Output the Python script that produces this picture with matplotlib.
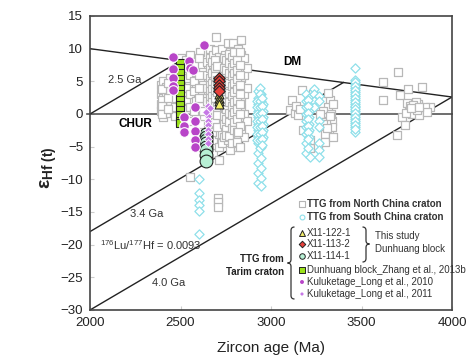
import matplotlib
matplotlib.use("Agg")
import matplotlib.pyplot as plt
from matplotlib.path import Path
from matplotlib.patches import PathPatch

plt.rcParams['font.family'] = ['Liberation Sans', 'DejaVu Sans']
plt.rcParams['mathtext.fontset'] = 'custom'
plt.rcParams['mathtext.rm'] = 'Liberation Sans'
plt.rcParams['mathtext.it'] = 'Liberation Sans:italic'
plt.rcParams['mathtext.bf'] = 'Liberation Sans:bold'

# ---------------- data ----------------
# TTG from North China craton (age Ma, epsilon Hf)
nc_age = ([2390]*4 + [2405]*5 + [2420]*4 + [2440]*4 + [2470]*5 + [2500]*3 + [2530]*6 + [2555]*5
          + [2585]*5 + [2610]*7 + [2625]*4 + [2645]*4 + [2665]*12 + [2680]*12 + [2695]*10
          + [2710]*8 + [2730]*10 + [2745]*8 + [2760]*10 + [2775]*9 + [2790]*9 + [2805]*9
          + [2820]*10 + [2835]*9 + [2850]*5 + [2865]*3
          + [2672]*9 + [2688]*9 + [2702]*6 + [2738]*9 + [2752]*9 + [2768]*9 + [2782]*9
          + [2798]*9 + [2812]*9 + [2828]*8 + [2398]*4 + [2430]*3 + [2575]*4 + [2600]*4
          + [2552, 2707, 2707, 2707, 2829, 2818]
          + [3171, 3116, 3105, 3133, 3150, 3177, 3140, 3160, 3326, 3315, 3315, 3290, 3300, 3310,
             3320, 3335, 3280, 3290, 3300, 3330, 3345, 3215, 3298, 3337, 3270, 3340, 3230, 3250,
             3215, 3260, 3305, 3325, 3285, 3312]
          + [3702, 3619, 3619, 3713, 3757, 3834, 3878, 3751, 3770, 3790, 3810, 3830, 3850, 3760,
             3780, 3800, 3820, 3724, 3740, 3696, 3745, 3860, 3785, 3805, 3775, 3815])
nc_eps = ([4.5, 3.0, 1.5, 0.5] + [5.0, 3.8, 2.5, 1.0, -0.5] + [4.2, 2.8, 1.8, 0.2]
          + [5.5, 3.5, 2.0, 0.8] + [6.0, 4.5, 2.5, 1.0, -0.3] + [8.5, 5.0, 2.0]
          + [8.2, 7.0, 5.5, 4.0, 2.2, 0.8] + [9.0, 6.0, 3.0, 1.0, -1.0]
          + [8.0, 6.5, 4.5, 2.0, -0.5] + [9.5, 7.5, 5.5, 3.5, 1.5, -1.5, -3.0]
          + [6.5, 4.5, 2.5, 0.5] + [8.0, 6.0, 4.0, 2.0]
          + [10.0, 8.5, 7.0, 5.5, 4.5, 3.5, 2.5, 1.5, 0.5, -0.5, -2.0, -3.5]
          + [9.0, 7.5, 6.5, 5.0, 4.0, 3.0, 2.0, 1.0, 0.0, -1.5, -4.0, -6.0]
          + [11.8, 9.8, 8.0, 6.0, 4.5, 2.5, 1.5, 0.5, -1.0, -2.5]
          + [8.8, 7.0, 5.5, 0.5, -1.5, -3.0, -5.0, -7.0]
          + [10.0, 8.0, 6.5, 5.0, 3.5, 2.0, 0.5, -1.0, -3.0, -4.5]
          + [9.0, 7.5, 6.0, 4.5, 3.0, 1.5, 0.0, -2.0]
          + [10.8, 8.5, 7.0, 5.5, 4.0, 2.5, 1.0, -0.5, -2.5, -4.0]
          + [9.5, 8.0, 6.5, 5.0, 3.5, 2.0, 0.5, -1.5, -5.5]
          + [10.8, 8.5, 7.0, 5.5, 4.0, 2.5, 1.0, -0.5, -3.0]
          + [9.0, 7.5, 6.0, 4.5, 3.0, 1.5, 0.0, -2.0, -3.5]
          + [10.0, 8.0, 6.5, 5.0, 3.5, 2.0, 0.5, -1.0, -3.0, -5.0]
          + [11.3, 9.0, 7.0, 5.5, 4.0, 2.5, 1.0, -0.5, -2.5]
          + [8.5, 6.0, 3.0, 0.0, -3.5] + [7.0, 4.0, -1.0]
          + [8.0, 6.2, 4.8, 3.8, 2.8, 1.8, 0.8, -0.8, -2.8]
          + [8.3, 7.0, 5.8, 4.5, 3.5, 2.4, 1.3, 0.3, -1.2]
          + [7.3, 5.2, 3.3, 1.0, -0.2, -2.0]
          + [8.5, 7.0, 5.8, 4.2, 2.8, 1.2, -0.3, -1.5, -3.5]
          + [8.2, 6.8, 5.2, 3.8, 2.3, 0.8, -0.8, -2.3, -3.2]
          + [9.2, 7.8, 6.3, 4.8, 3.2, 1.8, 0.2, -1.3, -3.3]
          + [8.8, 7.2, 5.8, 4.3, 2.8, 1.3, -0.2, -2.2, -4.5]
          + [9.5, 7.8, 6.3, 4.8, 3.3, 1.8, 0.3, -1.3, -2.5]
          + [8.3, 6.8, 5.3, 3.8, 2.2, 0.8, -0.8, -2.8, -4.3]
          + [9.5, 7.5, 6.0, 4.5, 3.0, 1.5, 0.0, -1.8]
          + [3.8, 2.2, 1.2, 0.0] + [4.8, 2.5, 0.8] + [7.5, 5.0, 3.5, 0.5] + [8.5, 6.0, 4.0, 2.5]
          + [-9.6, -12.8, -13.5, -14.3, -5.0, -2.7]
          + [3.7, 2.1, 0.6, 0.2, -0.1, -2.5, 1.2, 0.8, 2.1, 3.2, 1.1, 0.5, -0.5, -1.5,
             -2.5, -1.0, -1.0, -2.0, -3.0, 0.0, 1.5, -5.2, -4.3, -2.0, 0.0, -3.5, 3.0, 2.5,
             -4.0, -5.0, -1.2, -0.3, -1.6, -2.2]
          + [6.4, 4.9, 2.1, 2.9, 3.8, 4.1, 1.1, 1.7, 1.2, 0.8, 1.5, 0.5, 1.0, 0.3,
             0.0, 1.9, -0.2, -0.5, -1.7, -3.2, 0.2, 0.3, 1.4, 0.6, 0.9, 1.0])

# TTG from South China craton
sc_age = ([2930]*13 + [2945]*13 + [2920]*7 + [2955]*6 + [2937]*10 + [2950]*8
          + [3195]*9 + [3210]*7 + [3240]*4 + [3265]*7 + [3204, 3215] + [3202]*7
          + [3464]*15 + [3466]*13 + [2600]*6)
sc_eps = ([3.5, 2.5, 1.5, 0.5, -0.5, -1.5, -2.5, -3.5, -4.5, -6.0, -7.5, -9.0, -10.5]
          + [3.0, 2.0, 1.0, 0.0, -1.0, -2.0, -3.0, -4.0, -5.0, -6.8, -8.2, -9.8, -11.0]
          + [2.0, 1.0, 0.0, -1.0, -2.0, -3.0, -4.0] + [1.5, 0.5, -0.5, -1.5, -2.5, -3.5]
          + [4.0, 3.0, 2.0, 1.0, 0.0, -1.0, -2.0, -3.0, -4.0, -5.2]
          + [2.5, 1.2, 0.2, -0.8, -1.8, -2.8, -3.8, -4.8]
          + [3.0, 2.0, 1.0, 0.0, -1.0, -2.0, -3.0, -4.5, -6.0]
          + [2.5, 1.5, 0.5, -0.5, -1.5, -2.5, -3.5] + [3.8, 3.0, 2.0, 1.0]
          + [2.8, 2.0, -1.0, -2.0, -4.5, -5.5, -6.6] + [-5.2, -6.6]
          + [2.2, 1.2, 0.2, -0.8, -1.8, -2.8, -3.8]
          + [7.0, 5.2, 4.6, 4.0, 3.4, 2.8, 2.2, 1.6, 1.0, 0.4, -0.2, -0.8, -1.4, -2.0, -2.7]
          + [4.9, 4.3, 3.7, 3.1, 2.5, 1.9, 1.3, 0.7, 0.1, -0.5, -1.1, -1.7, -2.3]
          + [-10.0, -12.1, -13.2, -14.0, -14.8, -18.4])

# Tarim craton
zh_age = [2497]*13
zh_eps = [7.8, 7.0, 6.2, 5.4, 4.6, 3.8, 3.0, 2.2, 1.4, 0.6, -0.2, -1.0, -1.4]

l10_age = [2459, 2459, 2459, 2459, 2459, 2548, 2555, 2570, 2630,
           2519, 2519, 2519, 2580, 2580, 2580, 2580, 2580]
l10_eps = [8.7, 6.9, 5.5, 4.3, 3.6, 8.1, 7.0, 6.7, 10.5,
           -0.4, -1.9, -2.8, 1.0, -1.0, -2.6, -4.0, -5.0]

l11_age = [2652]*9 + [2663, 2640]
l11_eps = [1.2, 0.5, -0.3, -1.0, -1.7, -2.4, -3.1, -3.8, -4.5, 0.9, 0.3]

x114_age = [2640]*8
x114_eps = [-3.0, -3.5, -4.0, -4.5, -5.0, -5.5, -6.2, -7.2]

x113_age = [2713]*5
x113_eps = [5.5, 5.0, 4.5, 4.0, 3.5]

x122_age = [2713]*4
x122_eps = [3.0, 2.5, 2.0, 1.5]

# reference lines
dm_x = [2000, 4000]
dm_y = [10.0, 2.6]
chur_x = [1985, 4000]
chur_y = [0, 0]
l25_x = [2000, 2500]
l25_y = [0.0, 8.15]
l34_x = [2000, 3400]
l34_y = [-18.0, 4.82]
l40_x = [2000, 4000]
l40_y = [-30.0, 2.6]

# ---------------- figure ----------------
W, H = 474, 359
fig = plt.figure(figsize=(W/100, H/100), dpi=100)
ax = fig.add_axes([90/W, 1-310/H, 362/W, 294/H])
ax.set_xlim(2000, 4000)
ax.set_ylim(-30, 15)

lc = '#222222'
ax.plot(dm_x, dm_y, color=lc, lw=1.0, zorder=2)
ax.plot(chur_x, chur_y, color='#555555', lw=1.2, zorder=2, clip_on=False)
ax.plot(l25_x, l25_y, color=lc, lw=1.0, zorder=2)
ax.plot(l34_x, l34_y, color=lc, lw=1.0, zorder=2)
ax.plot(l40_x, l40_y, color=lc, lw=1.0, zorder=2)

ax.scatter(nc_age, nc_eps, marker='s', s=32, facecolor='white', edgecolor='#b8b8b8',
           linewidths=0.9, zorder=3)
ax.scatter(sc_age, sc_eps, marker='D', s=22, facecolor='white', edgecolor='#8fe0ea',
           linewidths=0.9, zorder=4)
ax.scatter(zh_age, zh_eps, marker='s', s=40, facecolor='#9be21a', edgecolor='#222222',
           linewidths=0.8, zorder=5)
ax.scatter(x114_age, x114_eps, marker='o', s=85, facecolor='#b8f0d5', edgecolor='#222222',
           linewidths=0.8, zorder=5)
ax.scatter(x113_age, x113_eps, marker='D', s=34, facecolor='#e8403a', edgecolor='#222222',
           linewidths=0.8, zorder=6)
ax.scatter(x122_age, x122_eps, marker='^', s=42, facecolor='#f5ef6a', edgecolor='#222222',
           linewidths=0.8, zorder=5)
ax.scatter(l10_age, l10_eps, marker='o', s=48, facecolor='#b845c8', edgecolor='white',
           linewidths=0.8, zorder=7)
ax.scatter(l11_age, l11_eps, marker='D', s=16, facecolor='#c678e6', edgecolor='white',
           linewidths=0.6, zorder=7)

ax.text(3116, 8.0, 'DM', fontsize=8.5, fontweight='bold', ha='center', va='center')
ax.text(2249, -1.6, 'CHUR', fontsize=8.5, fontweight='bold', ha='center', va='center')
ax.text(2193, 5.2, '2.5 Ga', fontsize=8, ha='center', va='center', color='#333333')
ax.text(2315, -15.3, '3.4 Ga', fontsize=8, ha='center', va='center', color='#333333')
ax.text(2055, -20.0, r'$^{176}$Lu/$^{177}$Hf = 0.0093', fontsize=8, ha='left', va='center',
        color='#333333')
ax.text(2436, -25.9, '4.0 Ga', fontsize=8, ha='center', va='center', color='#333333')

ax.set_xticks([2000, 2500, 3000, 3500, 4000])
ax.set_yticks([-30, -25, -20, -15, -10, -5, 0, 5, 10, 15])
ax.tick_params(direction='in', length=3, color='#cccccc', labelsize=9.5,
               labelcolor='#222222', pad=5)
for sp in ax.spines.values():
    sp.set_color('#444444')
    sp.set_linewidth(1.2)

# overlay in pixel coordinates for labels & legend
ov = fig.add_axes([0, 0, 1, 1], facecolor='none')
ov.set_xlim(0, W)
ov.set_ylim(H, 0)
ov.axis('off')

ov.text(271, 348, 'Zircon age (Ma)', fontsize=11, ha='center', va='center', color='#222222')
ov.text(49, 168, r'$\mathbf{\varepsilon}_{\mathbf{Hf\ (t)}}$', fontsize=14, rotation=90,
        ha='center', va='center', color='#222222')

lx, tx = 302, 307
fs = 7
ov.scatter([lx], [204], marker='s', s=14, facecolor='white', edgecolor='#b5b5b5', linewidths=0.8)
ov.text(tx, 204, 'TTG from North China craton', fontsize=fs, fontweight='bold', va='center',
        color='#333333')
ov.scatter([lx], [217], marker='o', s=12, facecolor='white', edgecolor='#8fe0ea', linewidths=0.8)
ov.text(tx, 217, 'TTG from South China craton', fontsize=fs, fontweight='bold', va='center',
        color='#333333')
ov.scatter([lx], [233], marker='^', s=18, facecolor='#f5ef6a', edgecolor='#222222', linewidths=0.7)
ov.text(tx, 233, 'X11-122-1', fontsize=fs, va='center', color='#333333')
ov.scatter([lx], [244], marker='D', s=11, facecolor='#e8403a', edgecolor='#222222', linewidths=0.7)
ov.text(tx, 244, 'X11-113-2', fontsize=fs, va='center', color='#333333')
ov.scatter([lx], [256], marker='o', s=16, facecolor='#b8f0d5', edgecolor='#222222', linewidths=0.7)
ov.text(tx, 256, 'X11-114-1', fontsize=fs, va='center', color='#333333')
ov.scatter([lx], [270], marker='s', s=16, facecolor='#9be21a', edgecolor='#222222', linewidths=0.7)
ov.text(tx, 270, 'Dunhuang block_Zhang et al., 2013b', fontsize=fs, va='center', color='#333333')
ov.scatter([lx], [282], marker='o', s=8, facecolor='#b845c8', edgecolor='none')
ov.text(tx, 282, 'Kuluketage_Long et al., 2010', fontsize=fs, va='center', color='#333333')
ov.scatter([lx], [294], marker='o', s=5, facecolor='#c678e6', edgecolor='none')
ov.text(tx, 294, 'Kuluketage_Long et al., 2011', fontsize=fs, va='center', color='#333333')

ov.text(375, 236, 'This study', fontsize=fs, va='center', color='#333333')
ov.text(375, 249, 'Dunhuang block', fontsize=fs, va='center', color='#333333')
ov.text(284, 259, 'TTG from', fontsize=fs, fontweight='bold', ha='right', va='center',
        color='#222222')
ov.text(284, 272, 'Tarim craton', fontsize=fs, fontweight='bold', ha='right', va='center',
        color='#222222')


def brace(x, y0, y1, ym, d):
    # d = -1 : tip to the left ; d = +1 : tip to the right
    r = 3.5
    verts = [(x - d*r, y0), (x, y0), (x, y0 + r),
             (x, ym - r), (x, ym), (x + d*r, ym),
             (x, ym), (x, ym + r),
             (x, y1 - r), (x, y1), (x - d*r, y1)]
    codes = [Path.MOVETO, Path.CURVE3, Path.CURVE3,
             Path.LINETO, Path.CURVE3, Path.CURVE3,
             Path.CURVE3, Path.CURVE3,
             Path.LINETO, Path.CURVE3, Path.CURVE3]
    ov.add_patch(PathPatch(Path(verts, codes), fill=False, edgecolor='#333333', lw=0.9))


brace(291, 227, 299, 263, -1)
brace(366, 227, 262, 244, 1)

fig.savefig('out.png', dpi=100)
